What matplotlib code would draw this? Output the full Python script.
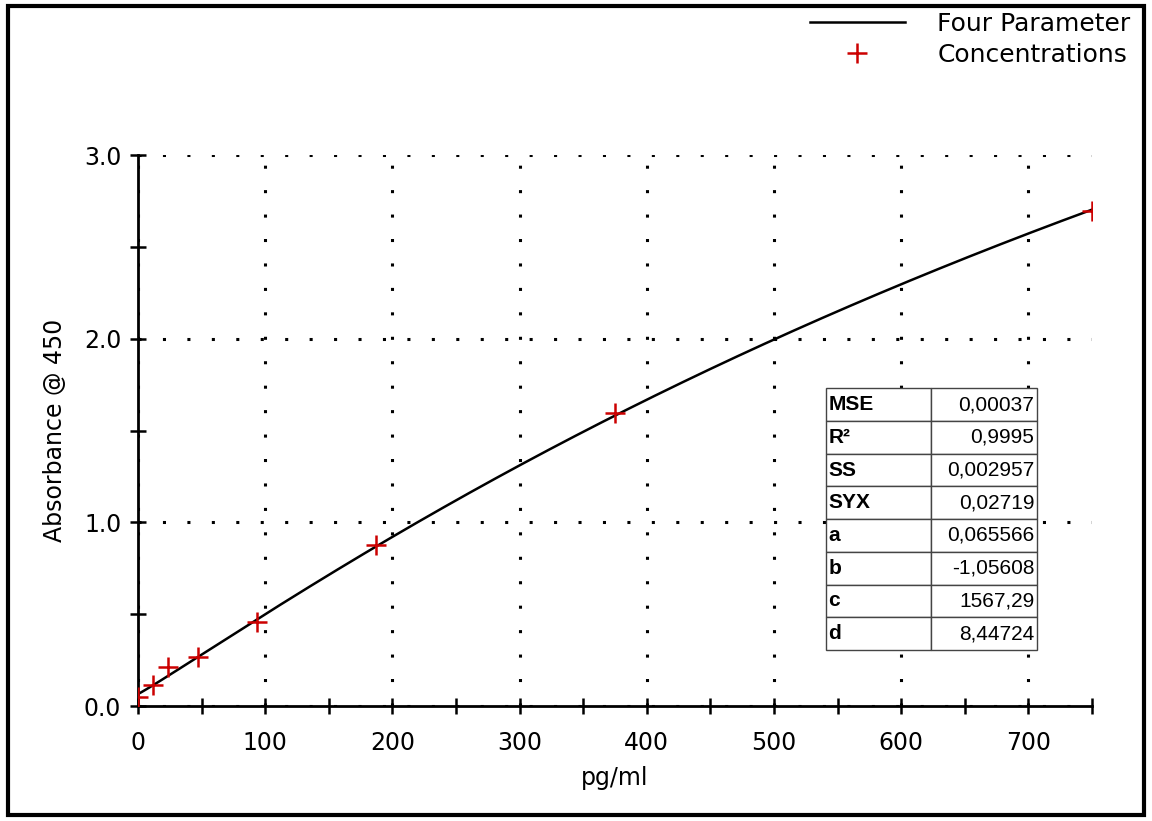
import numpy as np
import matplotlib
matplotlib.use("Agg")
import matplotlib.pyplot as plt
from matplotlib.patches import Rectangle

# standard concentrations (pg/ml) and measured absorbance
conc = [0, 11.72, 23.44, 46.88, 93.75, 187.5, 375, 750]
absorb = [0.047, 0.114, 0.214, 0.265, 0.459, 0.876, 1.595, 2.695]

# fit statistics / four parameter coefficients as shown in the table
stat_names = ["MSE", "R²", "SS", "SYX", "a", "b", "c", "d"]
stat_text = ["0,00037", "0,9995", "0,002957", "0,02719",
             "0,065566", "-1,05608", "1567,29", "8,44724"]
a, b, c, d = 0.065566, -1.05608, 1567.29, 8.44724

x_ticks = [0, 100, 200, 300, 400, 500, 600, 700]
y_ticks = [0.0, 1.0, 2.0, 3.0]


def four_pl(x):
    x = np.asarray(x, dtype=float)
    with np.errstate(divide="ignore"):
        return a + (d - a) / (1 + (x / c) ** b)


plt.rcParams['font.family'] = ['DejaVu Sans']

fig = plt.figure(figsize=(11.52, 8.21), dpi=100)
ax = fig.add_axes([0.1198, 0.140, 0.828, 0.671])

x_arr = np.linspace(0, 750, 800)
ax.plot(x_arr, four_pl(x_arr), color='black', linewidth=1.8, label='Four Parameter')
ax.plot(conc, absorb, linestyle='none', marker='+', color='#cc0000',
        markersize=15, markeredgewidth=1.8, label='Concentrations', zorder=5)

ax.set_xlim(0, 750)
ax.set_ylim(0, 3.0)
ax.set_xticks(x_ticks)
ax.set_yticks(y_ticks)
ax.set_xticks(np.arange(50, 751, 100), minor=True)
ax.set_yticks([0.5, 1.5, 2.5], minor=True)
ax.set_yticklabels([f"{v:.1f}" for v in y_ticks])
ax.tick_params(which='both', direction='inout', length=12, width=1.8,
               labelsize=17, pad=6)
ax.tick_params(axis='x', pad=12)

for s in ['top', 'right']:
    ax.spines[s].set_visible(False)
for s in ['left', 'bottom']:
    ax.spines[s].set_linewidth(2)

ax.grid(True, which='major', linestyle=(0, (1, 7)), color='black', linewidth=2.2)

ax.set_xlabel('pg/ml', fontsize=17, labelpad=8)
ax.set_ylabel('Absorbance @ 450', fontsize=17, labelpad=12)

tbl = ax.table(cellText=[[n, v] for n, v in zip(stat_names, stat_text)],
               bbox=[0.7217, 0.1017, 0.2203, 0.4753], zorder=6)
tbl.auto_set_font_size(False)
for (r, col), cell in tbl.get_celld().items():
    cell.set_edgecolor('#444444')
    cell.set_linewidth(1)
    cell.set_facecolor('white')
    t = cell.get_text()
    t.set_fontsize(15)
    t.set_family('Liberation Sans')
    cell.PAD = 0.02
    if col == 0:
        t.set_fontweight('bold')
        cell.set_text_props(ha='left')
    else:
        cell.set_text_props(ha='right')

fig.legend(loc='upper right', bbox_to_anchor=(0.99, 0.998), frameon=False,
           fontsize=18, handlelength=3.8, handletextpad=1.3, labelspacing=0.3,
           borderaxespad=0)

fig.patches.append(Rectangle((0.007, 0.007), 0.986, 0.986, transform=fig.transFigure,
                             fill=False, edgecolor='black', linewidth=3))

fig.savefig('out.png', dpi=100)
